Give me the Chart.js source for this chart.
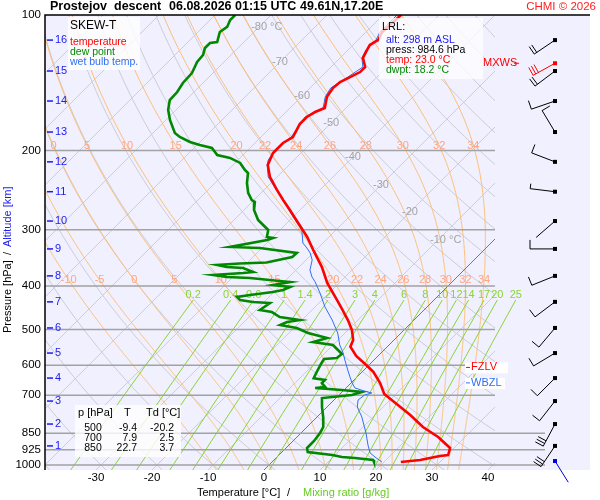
<!DOCTYPE html>
<html>
<head>
<meta charset="utf-8">
<script src="https://cdn.jsdelivr.net/npm/chart.js@4.4.1/dist/chart.umd.min.js"></script>
<style>
  html, body { margin: 0; padding: 0; background: #fff; }
</style>
</head>
<body>
<canvas id="skewt" width="600" height="500"></canvas>
<script>
// temperature profile [hPa] / [°C]
const tempP = [100, 109.1, 113.6, 116.6, 119.6, 124.6, 130.5, 133.9, 137.4, 140.9, 145.3, 152.0, 160.9, 164.3, 168.5, 174.7, 186.7, 192.5, 198.5, 202.6, 210.0, 215.4, 228.9, 244.8, 257.7, 271.3, 289.9, 311.4, 332.8, 363.2, 394.1, 430.0, 448.6, 476.3, 501.2, 527.5, 545.8, 572.5, 599.5, 621, 657.4, 695.4, 724.5, 774.3, 823.3, 866.5, 916.8, 950.1, 955, 964.8, 974.7, 984.6];
const tempT = [-56.8, -57.1, -56.4, -57.0, -56.6, -55.9, -53.9, -53.9, -54.8, -55.7, -55.9, -55.4, -53.8, -54.8, -55.4, -55.4, -54.3, -55.0, -55.0, -55.0, -54.3, -53.8, -51.3, -47.7, -44.8, -41.8, -38.0, -33.9, -30.5, -25.9, -22.1, -17.3, -15.0, -11.8, -9.3, -7.3, -6.6, -3.9, -0.5, 2.0, 5.2, 7.9, 11.1, 16.3, 20.7, 25.2, 29.3, 30.2, 28.9, 27.5, 26.1, 23.0];

// dew point profile
const dewP = [100, 102.6, 106.3, 109.1, 114.8, 115.4, 118.4, 122.7, 127.2, 134.6, 141.6, 148.3, 154.5, 162.6, 171.1, 182.9, 186.7, 191.5, 194.5, 197.5, 204.7, 207.8, 213.2, 221.0, 224.4, 236.2, 248.6, 257.7, 260.3, 271.3, 285.5, 292.9, 300.5, 311.4, 313.0, 316.2, 327.7, 329.4, 338.0, 345.0, 354.8, 356.6, 359.4, 363.2, 365.0, 372.5, 374.5, 378.3, 382.2, 384.1, 388.1, 392.1, 398.1, 402.3, 408.5, 412.7, 419.0, 423.3, 430.0, 434.4, 436.7, 452.5, 457.3, 469.0, 476.3, 481.2, 488.6, 496.2, 509.0, 522.1, 533.0, 541.2, 566.7, 578.4, 581.4, 596.5, 624.6, 641.8, 647.4, 657.4, 670.8, 674.5, 681.3, 688.2, 699.0, 710.0, 743.2, 782.2, 823.3, 848.9, 884.4, 902.7, 916.8, 935.8, 950.1, 960, 964.8, 974.7, 984.6];
const dewT = [-86.4, -86.4, -85.7, -86.1, -84.8, -85.9, -85.9, -85.0, -84.8, -83.75, -83.6, -83.0, -82.9, -81.4, -79.3, -76.1, -74.5, -71.8, -69.5, -66.8, -64.6, -61.8, -59.1, -57.0, -55.9, -54.3, -52.3, -50.4, -49.5, -48.2, -45.7, -43.9, -42.1, -41.1, -39.8, -40.5, -45.9, -40.4, -32.9, -33.0, -36.6, -41.25, -45.0, -42.9, -39.8, -37.3, -38.9, -43.9, -41.1, -36.8, -32.9, -28.9, -31.4, -28.0, -28.75, -30.2, -33.75, -35.7, -34.6, -32.0, -28.75, -29.3, -26.8, -24.5, -20.4, -22.3, -23.0, -19.5, -16.6, -12.3, -14.1, -10.0, -6.8, -7.0, -9.1, -8.75, -8.0, -7.5, -5.2, -5.2, -3.9, -5.5, -0.4, 3.6, 2.3, -2.5, -0.9, 1.1, 2.9, 3.4, 3.75, 3.75, 3.75, 4.6, 9.5, 11.6, 14.1, 17.7, 18.2];

// wet bulb temperature profile
const wbP = [100, 109.1, 113.6, 119.6, 124.6, 130.5, 137.4, 145.3, 152.0, 160.9, 168.5, 186.7, 198.5, 210.0, 215.4, 228.9, 242.3, 257.7, 274.1, 289.9, 300.5, 321.1, 329.4, 338.0, 350.3, 368.8, 382.1, 391.6, 414.8, 445.7, 476.3, 509.0, 541.2, 561, 584.4, 615.1, 637.6, 657.4, 674.4, 688.2, 691.7, 699.0, 717.1, 743.2, 782.2, 814.9, 848.9, 902.7, 940.2, 960, 984.6];
const wbT = [-57.5, -57.5, -56.8, -56.8, -56.1, -54.3, -55.2, -56.3, -55.7, -54.1, -55.7, -54.6, -55.2, -54.6, -53.9, -51.6, -48.4, -44.8, -41.4, -38.2, -36.1, -33.6, -32.0, -30.5, -28.9, -27.5, -25.9, -24.5, -21.6, -18.2, -14.6, -11.3, -8.8, -7.0, -5.2, -2.9, -1.25, 0.2, 1.6, 4.5, 5.5, 4.6, 4.3, 5.4, 8.0, 9.8, 11.6, 14.1, 15.9, 17.5, 19.6];

// altitude marks [km] and their pressure, wind at the same levels
const kmLevels = [16, 15, 14, 13, 12, 11, 10, 9, 8, 7, 6, 5, 4, 3, 2, 1];
const kmP = [113.7, 133.2, 155.3, 182, 212, 247, 287, 331, 380, 434, 496, 564, 641, 721, 811, 907];
const windDir = [236, 233, 251, 329, 291, 277, 229, 270, 248, 233, 220, 239, 225, 218, 208, 214];
const windSpd = [20, 20, 10, 10, 10, 5, 3, 10, 10, 10, 10, 10, 10, 10, 30, 30];
const mxwsP = 128, mxwsDir = 241, mxwsSpd = 30;
const sfcP = 980, sfcDir = 148;
const fzlvP = 607, wbzlP = 657;

// axes
const pressTicks = [100, 200, 300, 400, 500, 600, 700, 850, 925, 1000];
const tempTicks = [-30, -20, -10, 0, 10, 20, 30, 40];
const isoLabelT = [-80, -70, -60, -50, -40, -30, -20, -10];
const isoLabelP = [106.3, 127.2, 151.3, 173.6, 206.8, 238.7, 274.1, 316.2];
const thetaW = [-10, -5, 0, 5, 10, 15, 20, 22, 24, 26, 28, 30, 32, 34];
const mixRatios = [0.2, 0.4, 0.6, 1, 1.4, 2, 3, 4, 6, 8, 10, 12, 14, 17, 20, 25];

// table
const tableP = [500, 700, 850];
const tableT = ['-9.4', '7.9', '22.7'];
const tableTd = ['-20.2', '2.5', '3.7'];

const P_BOT = 1026;
const SKEW = 450 / 5.6;      // deg C shift per pressure decade
const X_MIN = -39.107, X_MAX = 58.214, DIAG_MAX = 41.25;
const FONT = 'Liberation Sans, Arial, sans-serif';

function skewX(t, p) {
  return t + SKEW * Math.log10(P_BOT / p);
}

function satMix(tK, p) {
  const tc = tK - 273.15;
  const es = 6.112 * Math.exp(17.67 * tc / (tc + 243.5));
  return 0.622 * es / (p - es);
}

function dTdp(tK, p) {
  const rs = satMix(tK, p);
  return (287.04 * tK + 2.501e6 * rs) /
    (p * (1005.7 + 2.501e6 * 2.501e6 * rs * 0.622 / (287.04 * tK * tK)));
}

function moistAdiabat(tw) {
  let t = tw + 273.15, p = 1000;
  const h0 = (P_BOT - 1000) / 13;
  for (let i = 0; i < 13; i++) {
    const k1 = dTdp(t, p), k2 = dTdp(t + k1 * h0, p + h0);
    t += h0 * (k1 + k2) / 2; p += h0;
  }
  const out = [[p, t - 273.15]];
  while (p > 100.001) {
    const h = Math.max(-2, 100 - p);
    const k1 = dTdp(t, p), k2 = dTdp(t + k1 * h, p + h);
    t += h * (k1 + k2) / 2; p += h;
    out.push([p, t - 273.15]);
  }
  return out;
}

function dewFromMix(w, p) {
  const e = w * p / (622 + w);
  const l = Math.log(e / 6.112);
  return 243.5 * l / (17.67 - l);
}

function atP(curve, p) {
  for (let i = 1; i < curve.length; i++) {
    if (curve[i][0] <= p) {
      const a = curve[i - 1], b = curve[i];
      const f = (a[0] - p) / (a[0] - b[0]);
      return a[1] + f * (b[1] - a[1]);
    }
  }
  return curve[curve.length - 1][1];
}

const moistCurves = thetaW.map(moistAdiabat);

function logLevels(p0, p1, n) {
  const out = [];
  for (let i = 0; i <= n; i++) out.push(p0 * Math.pow(p1 / p0, i / n));
  return out;
}

function strokePts(ctx, pts) {
  ctx.beginPath();
  pts.forEach((q, i) => i ? ctx.lineTo(q[0], q[1]) : ctx.moveTo(q[0], q[1]));
  ctx.stroke();
}

function drawBarb(ctx, x0, y0, dir, spd, color) {
  const r = dir * Math.PI / 180;
  const ux = Math.sin(r), uy = -Math.cos(r);
  const nx = -uy, ny = ux;
  const ex = x0 + ux * 25, ey = y0 + uy * 25;
  ctx.strokeStyle = color;
  ctx.lineWidth = 1;
  ctx.beginPath();
  ctx.moveTo(x0, y0);
  ctx.lineTo(ex, ey);
  let s = spd, k = 0;
  while (s >= 7.5) {
    const bx = ex - ux * k * 3, by = ey - uy * k * 3;
    ctx.moveTo(bx, by);
    ctx.lineTo(bx + nx * 9, by + ny * 9);
    s -= 10; k++;
  }
  if (s >= 2.5 && spd >= 5) {
    const bx = ex - ux * k * 3, by = ey - uy * k * 3;
    ctx.moveTo(bx, by);
    ctx.lineTo(bx + nx * 5, by + ny * 5);
  }
  ctx.stroke();
  ctx.fillStyle = color;
  ctx.fillRect(x0 - 2, y0 - 2, 4, 4);
}

const skewGrid = {
  id: 'skewGrid',
  beforeDatasetsDraw(chart) {
    const { ctx, chartArea: a, scales } = chart;
    const px = (t, p) => scales.x.getPixelForValue(skewX(t, p));
    const py = p => scales.y.getPixelForValue(p);
    const diagR = scales.x.getPixelForValue(DIAG_MAX);

    ctx.save();
    ctx.fillStyle = '#f0f0ff';
    ctx.fillRect(a.left, a.top, a.right - a.left, a.bottom - a.top);

    ctx.save();
    ctx.beginPath();
    ctx.rect(a.left, a.top, diagR - a.left, a.bottom - a.top);
    ctx.clip();
    ctx.lineWidth = 1;
    ctx.strokeStyle = '#cdcdd4';
    for (let t = -130; t <= 40; t += 10) {
      if (t === 0) continue;
      strokePts(ctx, [[px(t, 100), py(100)], [px(t, P_BOT), py(P_BOT)]]);
    }
    const levels = logLevels(P_BOT, 100, 60);
    for (let th = -40; th <= 200; th += 10) {
      strokePts(ctx, levels.map(p => [px((th + 273.15) * Math.pow(p / 1000, 0.2857) - 273.15, p), py(p)]));
    }
    ctx.strokeStyle = '#ffbf72';
    moistCurves.forEach(c => strokePts(ctx, c.map(q => [px(q[1], q[0]), py(q[0])])));
    ctx.strokeStyle = '#777777';
    strokePts(ctx, [[px(0, 100), py(100)], [px(0, P_BOT), py(P_BOT)]]);
    ctx.restore();

    // mixing ratio lines
    ctx.save();
    ctx.beginPath();
    ctx.rect(a.left, a.top, a.right - a.left, a.bottom - a.top);
    ctx.clip();
    ctx.strokeStyle = '#8bd432';
    const mixLev = logLevels(P_BOT, 430, 12);
    mixRatios.forEach(w => strokePts(ctx, mixLev.map(p => [px(dewFromMix(w, p), p), py(p)])));
    ctx.restore();

    // isobars
    ctx.strokeStyle = '#a2a2a2';
    ctx.lineWidth = 1.5;
    pressTicks.forEach(p => {
      if (p === 100) return;
      const right = p >= 850 ? diagR + 50 : diagR;
      strokePts(ctx, [[a.left, py(p)], [right, py(p)]]);
    });

    // labels of isopleths
    ctx.font = '11px ' + FONT;
    ctx.textBaseline = 'middle';
    ctx.fillStyle = '#a4a4a4';
    isoLabelT.forEach((t, i) => {
      const num = String(t);
      const txt = (i === 0 || i === isoLabelT.length - 1) ? num + ' °C' : num;
      const w = ctx.measureText(num).width;
      ctx.textAlign = 'left';
      ctx.fillText(txt, px(t, isoLabelP[i]) - w / 2, py(isoLabelP[i]));
    });
    ctx.textAlign = 'center';
    ctx.fillStyle = '#ffa584';
    [195, 388].forEach(pl => {
      thetaW.forEach((tw, i) => {
        const x = px(atP(moistCurves[i], pl), pl);
        if (x < a.left + 6 || x > diagR) return;
        ctx.fillText(String(tw), x, py(pl));
      });
    });
    ctx.fillStyle = '#8bd432';
    mixRatios.forEach(w => ctx.fillText(String(w), px(dewFromMix(w, 430), 430), py(419)));
    ctx.restore();
  },

  afterDatasetsDraw(chart) {
    const { ctx, chartArea: a, scales } = chart;
    const py = p => scales.y.getPixelForValue(p);
    const diagR = scales.x.getPixelForValue(DIAG_MAX);
    ctx.save();

    // frame
    ctx.strokeStyle = '#000';
    ctx.lineWidth = 1.5;
    strokePts(ctx, [[a.left, a.bottom], [a.left, a.top], [a.right, a.top]]);

    // pressure axis
    ctx.fillStyle = '#000';
    ctx.font = '11.5px ' + FONT;
    ctx.textAlign = 'right';
    ctx.textBaseline = 'middle';
    pressTicks.forEach(p => ctx.fillText(String(p), a.left - 4, py(p)));

    // temperature axis
    ctx.textAlign = 'center';
    tempTicks.forEach(t => ctx.fillText(String(t), scales.x.getPixelForValue(t), a.bottom + 8));

    // altitude marks
    ctx.fillStyle = '#1c1cf0';
    ctx.strokeStyle = '#1c1cf0';
    ctx.lineWidth = 1.5;
    ctx.font = '11px ' + FONT;
    ctx.textAlign = 'left';
    kmLevels.forEach((km, i) => {
      const y = py(kmP[i]);
      strokePts(ctx, [[a.left + 2, y], [a.left + 8, y]]);
      ctx.fillText(String(km), a.left + 10, y);
    });

    // axis titles
    ctx.font = '11px ' + FONT;
    ctx.textAlign = 'left';
    ctx.fillStyle = '#000';
    ctx.fillText('Temperature [°C]', 197, 493);
    ctx.fillText('/', 287, 493);
    ctx.fillStyle = '#66cc22';
    ctx.fillText('Mixing ratio [g/kg]', 303, 493);

    ctx.save();
    ctx.translate(8, 0);
    ctx.rotate(-Math.PI / 2);
    ctx.fillStyle = '#000';
    ctx.fillText('Pressure [hPa]', -333, 0);
    ctx.fillText('/', -255, 0);
    ctx.fillStyle = '#1c1cf0';
    ctx.fillText('Altitude [km]', -247, 0);
    ctx.restore();

    // legend box
    ctx.fillStyle = 'rgba(255,255,255,0.8)';
    ctx.fillRect(68, 17, 72, 53);
    ctx.font = '12px ' + FONT;
    ctx.fillStyle = '#000';
    ctx.fillText('SKEW-T', 70, 26);
    ctx.font = '10.5px ' + FONT;
    ctx.fillStyle = '#ff0000';
    ctx.fillText('temperature', 70, 42);
    ctx.fillStyle = '#008800';
    ctx.fillText('dew point', 70, 52);
    ctx.fillStyle = '#3070f0';
    ctx.fillText('wet bulb temp.', 70, 62);

    // LRL box
    ctx.fillStyle = 'rgba(255,255,255,0.75)';
    ctx.fillRect(379, 18, 104, 61);
    ctx.font = '11px ' + FONT;
    ctx.fillStyle = '#000';
    ctx.fillText('LRL:', 382, 27);
    ctx.font = '10.5px ' + FONT;
    ctx.fillStyle = '#1c1cf0';
    ctx.fillText('alt: 298 m ASL', 386, 40);
    ctx.fillStyle = '#000';
    ctx.fillText('press: 984.6 hPa', 386, 50);
    ctx.fillStyle = '#ff0000';
    ctx.fillText('temp: 23.0 °C', 386, 60);
    ctx.fillStyle = '#008800';
    ctx.fillText('dwpt: 18.2 °C', 386, 70);

    // level table
    ctx.fillStyle = 'rgba(255,255,255,0.8)';
    ctx.fillRect(75, 405, 106, 52);
    ctx.fillStyle = '#000';
    ctx.font = '11px ' + FONT;
    ctx.fillText('p [hPa]', 78, 413);
    ctx.fillText('T', 124, 413);
    ctx.fillText('Td [°C]', 146, 413);
    ctx.font = '10.5px ' + FONT;
    tableP.forEach((p, i) => {
      const y = 428 + i * 10;
      ctx.textAlign = 'center';
      ctx.fillText(String(p), 93, y);
      ctx.textAlign = 'right';
      ctx.fillText(tableT[i], 137, y);
      ctx.fillText(tableTd[i], 174, y);
    });

    // level markers
    ctx.textAlign = 'left';
    ctx.font = '11px ' + FONT;
    ctx.lineWidth = 1;
    [[fzlvP, 'FZLV', '#ff0000', 43], [wbzlP, 'WBZL', '#3070f0', 40]].forEach(m => {
      const y = py(m[0]);
      ctx.fillStyle = '#fff';
      ctx.fillRect(diagR - 30, y - 5, m[3], 11);
      ctx.strokeStyle = m[2];
      strokePts(ctx, [[diagR - 29, y], [diagR - 25, y]]);
      ctx.fillStyle = m[2];
      ctx.fillText(m[1], diagR - 24, y);
    });
    const ym = py(mxwsP);
    ctx.fillStyle = '#ff0000';
    ctx.strokeStyle = '#ff0000';
    ctx.fillText('MXWS', diagR - 12, ym);
    strokePts(ctx, [[diagR + 19, ym], [diagR + 24, ym]]);

    // wind barbs
    const bx = a.right - 35;
    kmLevels.forEach((km, i) => drawBarb(ctx, bx, py(kmP[i]), windDir[i], windSpd[i], '#000'));
    drawBarb(ctx, bx, py(mxwsP), mxwsDir, mxwsSpd, '#ff0000');
    drawBarb(ctx, bx, py(sfcP), sfcDir, 0, '#0000dd');

    // title
    ctx.textBaseline = 'middle';
    ctx.fillStyle = '#000';
    ctx.font = 'bold 12.5px ' + FONT;
    ctx.fillText('Prostejov', 50, 7);
    ctx.fillText('descent', 114, 7);
    ctx.fillText('06.08.2026 01:15 UTC', 169, 7);
    ctx.fillText('49.61N,17.20E', 300, 7);
    ctx.font = '11.5px ' + FONT;
    ctx.fillStyle = '#ff2020';
    ctx.textAlign = 'right';
    ctx.fillText('CHMI © 2026', 596, 7);
    ctx.restore();
  }
};

const toPoints = (ps, ts) => ps.map((p, i) => ({ x: skewX(ts[i], p), y: p }));

new Chart(document.getElementById('skewt'), {
  type: 'scatter',
  data: {
    datasets: [
      { label: 'temperature', data: toPoints(tempP, tempT), borderColor: '#ff0000', borderWidth: 2.6, order: 0 },
      { label: 'wet bulb temp.', data: toPoints(wbP, wbT), borderColor: '#3070f0', borderWidth: 1, order: 1 },
      { label: 'dew point', data: toPoints(dewP, dewT), borderColor: '#008800', borderWidth: 2.6, order: 2 }
    ]
  },
  options: {
    responsive: false,
    animation: false,
    showLine: true,
    layout: { padding: { left: 45, right: 10, top: 15, bottom: 30 } },
    elements: { point: { radius: 0 }, line: { tension: 0, fill: false } },
    scales: {
      x: { type: 'linear', min: X_MIN, max: X_MAX, display: false },
      y: { type: 'logarithmic', reverse: true, min: 100, max: P_BOT, display: false }
    },
    plugins: { legend: { display: false }, tooltip: { enabled: false } }
  },
  plugins: [skewGrid]
});
</script>
</body>
</html>
